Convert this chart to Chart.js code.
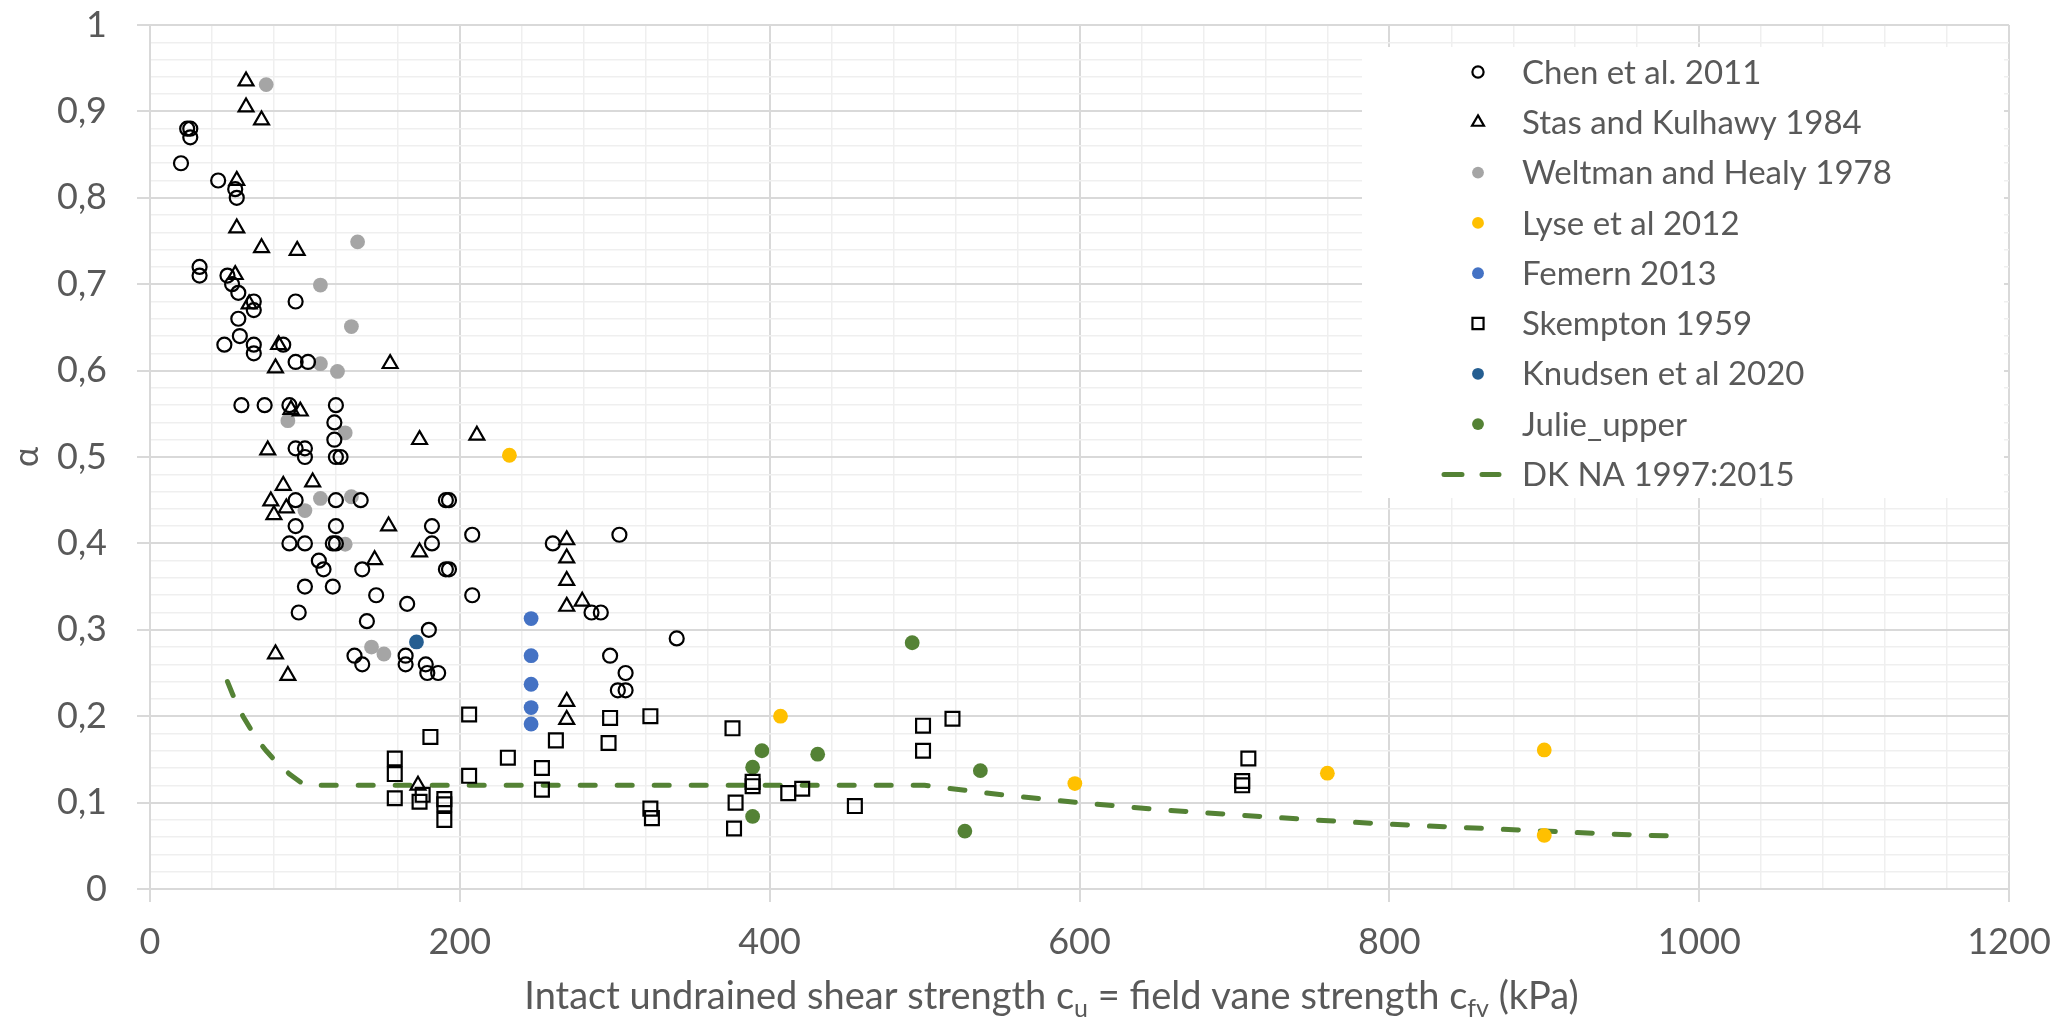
<!DOCTYPE html>
<html><head><meta charset="utf-8">
<script src="https://cdn.jsdelivr.net/npm/chart.js@4.4.1/dist/chart.umd.min.js"></script>
<style>html,body{margin:0;padding:0;background:#fff;}#wrap{width:2068px;height:1020px;}</style>
</head><body><div id="wrap"><canvas id="c" width="2068" height="1020"></canvas></div>
<script>
// ---- data ----
const chenX = [24,26,26,20,44,55,56,32,32,50,53,57,94,67,67,57,58,48,67,67,86,94,102,59,74,90,120,119,119,94,100,100,120,123,94,120,136,191,193,94,120,182,90,100,118,120,182,109,112,137,191,193,100,118,146,166,96,140,180,132,137,165,165,178,179,186,208,303,260,285,291,208,340,297,307,302,307];
const chenY = [0.88,0.88,0.87,0.84,0.82,0.81,0.80,0.72,0.71,0.71,0.70,0.69,0.68,0.68,0.67,0.66,0.64,0.63,0.63,0.62,0.63,0.61,0.61,0.56,0.56,0.56,0.56,0.54,0.52,0.51,0.51,0.50,0.50,0.50,0.45,0.45,0.45,0.45,0.45,0.42,0.42,0.42,0.40,0.40,0.40,0.40,0.40,0.38,0.37,0.37,0.37,0.37,0.35,0.35,0.34,0.33,0.32,0.31,0.30,0.27,0.26,0.27,0.26,0.26,0.25,0.25,0.41,0.41,0.40,0.32,0.32,0.34,0.29,0.27,0.25,0.23,0.23];
const stasX = [62,62,72,56,56,72,95,55,64,83,81,155,91,97,174,76,86,105,78,88,80,154,145,174,81,89,211,269,269,269,269,279,269,269,173];
const stasY = [0.935,0.905,0.89,0.82,0.765,0.742,0.739,0.711,0.677,0.63,0.603,0.608,0.555,0.553,0.52,0.508,0.467,0.471,0.449,0.441,0.433,0.42,0.381,0.39,0.272,0.247,0.525,0.404,0.383,0.357,0.327,0.333,0.217,0.196,0.12];
const weltX = [75,134,110,130,110,121,89,126,110,130,100,126,143,151];
const weltY = [0.931,0.749,0.699,0.651,0.608,0.599,0.542,0.528,0.452,0.454,0.438,0.399,0.28,0.272];
const lyseX = [232,407,597,760,900,900];
const lyseY = [0.502,0.2,0.122,0.134,0.161,0.062];
const femX = [246,246,246,246,246];
const femY = [0.313,0.27,0.237,0.21,0.191];
const skemX = [206,181,158,158,158,176,174,190,190,190,206,231,262,253,253,297,296,323,376,389,389,378,377,323,324,412,421,455,499,499,518,705,705,709];
const skemY = [0.202,0.176,0.151,0.133,0.105,0.109,0.101,0.104,0.098,0.08,0.131,0.152,0.172,0.14,0.115,0.198,0.169,0.2,0.186,0.124,0.119,0.1,0.07,0.093,0.082,0.111,0.116,0.096,0.189,0.16,0.197,0.125,0.12,0.151];
const knudX = [172];
const knudY = [0.286];
const julieX = [492,395,431,389,389,536,526];
const julieY = [0.285,0.16,0.156,0.141,0.084,0.137,0.067];
const dkX = [50,55,60,65,70,75,80,90,100,500,550,600,650,700,750,800,850,900,950,990];
const dkY = [0.24,0.218,0.2,0.185,0.171,0.16,0.15,0.133,0.12,0.12,0.109,0.1,0.092,0.086,0.08,0.075,0.071,0.067,0.063,0.061];
const seriesNames = ['Chen et al. 2011','Stas and Kulhawy 1984','Weltman and Healy 1978','Lyse et al 2012','Femern 2013','Skempton 1959','Knudsen et al 2020','Julie_upper','DK NA 1997:2015'];
const xTickLabels = ['0','200','400','600','800','1000','1200'];
const yTickLabels = ['0','0,1','0,2','0,3','0,4','0,5','0,6','0,7','0,8','0,9','1'];

const zip = (xs, ys) => xs.map((x, i) => ({x, y: ys[i]}));
const FONT = 'Lato, "Open Sans", sans-serif';
const TXT = '#595959';
const MAJOR = '#d9d9d9', MINOR = '#efefef';

function hollow(name, xs, ys, style, r) {
  return {label: name, data: zip(xs, ys), pointStyle: style, pointRadius: r, pointBorderWidth: 2.2,
    pointBorderColor: '#000', pointBackgroundColor: 'rgba(0,0,0,0)', showLine: false, order: 1};
}
function filled(name, xs, ys, color) {
  return {label: name, data: zip(xs, ys), pointStyle: 'circle', pointRadius: 7.4, pointBorderWidth: 0,
    pointBorderColor: color, pointBackgroundColor: color, showLine: false, order: 1};
}

const datasets = [
  hollow(seriesNames[0], chenX, chenY, 'circle', 7),
  hollow(seriesNames[1], stasX, stasY, 'triangle', 8.6),
  filled(seriesNames[2], weltX, weltY, '#a5a5a5'),
  filled(seriesNames[3], lyseX, lyseY, '#ffc000'),
  filled(seriesNames[4], femX, femY, '#4472c4'),
  hollow(seriesNames[5], skemX, skemY, 'rect', 9.8),
  filled(seriesNames[6], knudX, knudY, '#255e91'),
  filled(seriesNames[7], julieX, julieY, '#548235'),
  {label: seriesNames[8], data: zip(dkX, dkY), showLine: true, pointRadius: 0, borderColor: '#548235',
   borderWidth: 5, borderDash: [15, 22], borderCapStyle: 'round', fill: false, tension: 0, order: 5}
];

const isMajorY = v => Math.round(v * 100) % 10 === 0;
const isMajorX = v => Math.round(v) % 200 === 0;

const legendPlugin = {
  id: 'customLegend',
  beforeDatasetsDraw(chart) {
    const ctx = chart.ctx;
    ctx.save();
    ctx.fillStyle = '#fff';
    ctx.fillRect(1362, 47, 642, 451);
    const x0 = 1478, tx = 1522, y0 = 72, dy = 50.3;
    chart.data.datasets.forEach((ds, i) => {
      const y = y0 + i * dy;
      if (ds.showLine) {
        ctx.strokeStyle = ds.borderColor; ctx.lineWidth = ds.borderWidth; ctx.lineCap = 'round';
        ctx.setLineDash([]);
        ctx.beginPath(); ctx.moveTo(1444, y); ctx.lineTo(1462, y); ctx.moveTo(1482, y); ctx.lineTo(1499, y); ctx.stroke();
      } else {
        ctx.fillStyle = ds.pointBackgroundColor; ctx.strokeStyle = ds.pointBorderColor;
        ctx.lineWidth = ds.pointBorderWidth;
        Chart.helpers.drawPoint(ctx, {pointStyle: ds.pointStyle, radius: ds.pointRadius * 0.8, rotation: 0, borderWidth: ds.pointBorderWidth}, x0, y);
      }
      ctx.fillStyle = TXT; ctx.font = '33px ' + FONT; ctx.textAlign = 'left'; ctx.textBaseline = 'middle';
      ctx.fillText(ds.label, tx, y + 1);
    });
    ctx.restore();
  },
  afterDraw(chart) {
    const ctx = chart.ctx, area = chart.chartArea;
    ctx.save();
    ctx.fillStyle = TXT;
    ctx.translate(27, (area.top + area.bottom) / 2);
    ctx.rotate(-Math.PI / 2);
    ctx.font = '34px ' + FONT; ctx.textAlign = 'center'; ctx.textBaseline = 'middle';
    ctx.fillText('α', 0, 0);
    ctx.restore();
    ctx.save();
    ctx.fillStyle = TXT; ctx.textBaseline = 'alphabetic'; ctx.textAlign = 'left';
    const parts = [['Intact undrained shear strength c', 0], ['u', 1], [' = field vane strength c', 0], ['fv', 1], [' (kPa)', 0]];
    const big = '38px ' + FONT, small = '25px ' + FONT;
    let w = 0;
    parts.forEach(p => { ctx.font = p[1] ? small : big; w += ctx.measureText(p[0]).width; });
    let x = (area.left + area.right) / 2 - w / 2 - 28;
    const base = 1009;
    parts.forEach(p => { ctx.font = p[1] ? small : big; ctx.fillText(p[0], x, p[1] ? base + 8 : base); x += ctx.measureText(p[0]).width; });
    ctx.restore();
  }
};

new Chart(document.getElementById('c'), {
  type: 'scatter',
  data: {datasets},
  options: {
    responsive: false, animation: false, events: [], devicePixelRatio: 1,
    layout: {padding: {top: 25, right: 59, left: 0, bottom: 0}},
    plugins: {legend: {display: false}, tooltip: {enabled: false}, title: {display: false}},
    scales: {
      x: {
        type: 'linear', min: 0, max: 1200,
        afterFit: s => { s.height = 131; s.paddingLeft = 0; s.paddingRight = 0; },
        border: {display: true, color: MAJOR, width: 2},
        grid: {
          color: c => isMajorX(c.tick.value) ? MAJOR : MINOR,
          lineWidth: c => isMajorX(c.tick.value) ? 2 : 1.5,
          tickColor: c => isMajorX(c.tick.value) ? MAJOR : 'rgba(0,0,0,0)',
          tickLength: 13, tickWidth: 2
        },
        ticks: {
          stepSize: 40, maxTicksLimit: 100, autoSkip: false, maxRotation: 0, padding: 19,
          color: TXT, font: {family: FONT, size: 36},
          callback: v => isMajorX(v) ? xTickLabels[Math.round(v / 200)] : ''
        }
      },
      y: {
        type: 'linear', min: 0, max: 1,
        afterFit: s => { s.width = 150; s.paddingTop = 0; s.paddingBottom = 0; },
        border: {display: true, color: MAJOR, width: 2},
        grid: {
          color: c => isMajorY(c.tick.value) ? MAJOR : MINOR,
          lineWidth: c => isMajorY(c.tick.value) ? 2 : 1.5,
          tickColor: c => isMajorY(c.tick.value) ? MAJOR : 'rgba(0,0,0,0)',
          tickLength: 13, tickWidth: 2
        },
        ticks: {
          stepSize: 0.02, maxTicksLimit: 100, autoSkip: false, padding: 30,
          color: TXT, font: {family: FONT, size: 36},
          callback: v => isMajorY(v) ? yTickLabels[Math.round(v * 10)] : ''
        }
      }
    }
  },
  plugins: [legendPlugin]
});
</script>
</body></html>
